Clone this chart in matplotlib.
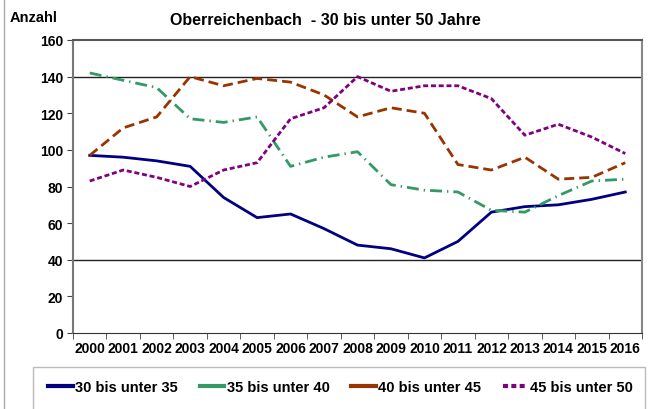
import matplotlib
matplotlib.use("Agg")
import matplotlib.pyplot as plt
from matplotlib.lines import Line2D
from matplotlib.patches import Rectangle

years = [str(y) for y in range(2000, 2017)]
s30_35 = [97, 96, 94, 91, 74, 63, 65, 57, 48, 46, 41, 50, 66, 69, 70, 73, 77]
s35_40 = [142, 138, 134, 117, 115, 118, 91, 96, 99, 81, 78, 77, 67, 66, 75, 83, 84]
s40_45 = [97, 112, 118, 140, 135, 139, 137, 130, 118, 123, 120, 92, 89, 96, 84, 85, 93]
s45_50 = [83, 89, 85, 80, 89, 93, 117, 123, 140, 132, 135, 135, 128, 108, 114, 107, 98]
labels = ["30 bis unter 35", "35 bis unter 40", "40 bis unter 45", "45 bis unter 50"]
yticks = [0, 20, 40, 60, 80, 100, 120, 140, 160]

plt.rcParams['font.family'] = ['Liberation Sans', 'DejaVu Sans']

W, H = 651, 410
fig = plt.figure(figsize=(6.51, 4.10), dpi=100)
ax = fig.add_axes([73 / W, 1 - 334 / H, (642 - 73) / W, (334 - 41) / H])

x = list(range(len(years)))
lw = 2.0
ax.plot(x, s30_35, color='#000080', lw=lw, solid_joinstyle='round')
ax.plot(x, s35_40, color='#339966', lw=lw, dashes=(4.3, 1.8, 0.5, 1.8))
ax.plot(x, s40_45, color='#993300', lw=lw, dashes=(3.6, 1.8))
ax.plot(x, s45_50, color='#800080', lw=lw, dashes=(1.8, 1.0))

ax.set_xlim(-0.5, len(years) - 0.5)
ax.set_ylim(0, 160)
ax.set_yticks(yticks)
ax.set_yticklabels([str(v) for v in yticks], fontsize=10, fontweight='bold')
ax.set_xticks(x)
ax.set_xticklabels(years, fontsize=10, fontweight='bold')
ax.tick_params(axis='x', length=0, pad=6)
ax.set_xticks([i - 0.5 for i in range(len(years) + 1)], minor=True)
ax.tick_params(axis='x', which='minor', length=4, color='#444444', direction='out')
ax.tick_params(axis='y', length=4, color='#444444', direction='out', pad=3)

for gy in [40, 140]:
    ax.axhline(gy, color='#222222', lw=1.0, zorder=0)

ax.spines['right'].set_color('#888888')
ax.spines['right'].set_linewidth(1.5)
ax.spines['top'].set_color('#555555')
ax.spines['top'].set_linewidth(1.5)
ax.spines['left'].set_color('#777777')
ax.spines['left'].set_linewidth(1.5)
ax.spines['bottom'].set_color('#333333')

# outer chart border (left edge visible)
fig.add_artist(Line2D([3.5 / W, 3.5 / W], [0, 1], color='#aaaaaa', lw=1.0))

fig.text(0.50, 0.950, "Oberreichenbach  - 30 bis unter 50 Jahre", ha='center', va='center',
         fontsize=11.5, fontweight='bold')
fig.text(0.015, 0.955, "Anzahl", ha='left', va='center', fontsize=10.5, fontweight='bold')

# legend box
fig.add_artist(Rectangle((33 / W, -0.05), (645 - 33) / W, 0.05 + 1 - 368 / H,
                         transform=fig.transFigure, fill=False, edgecolor='#bbbbbb', lw=1.0))

handles = [Line2D([], [], color='#000080', lw=3),
           Line2D([], [], color='#339966', lw=3),
           Line2D([], [], color='#993300', lw=3),
           Line2D([], [], color='#800080', lw=3, dashes=(1.2, 0.8))]
leg = fig.legend(handles, labels, loc='center', bbox_to_anchor=(0.523, 1 - 388 / H), ncol=4,
                 frameon=False, handlelength=1.7,
                 handletextpad=0.15, columnspacing=1.5,
                 prop={'size': 10.5, 'weight': 'bold'})

fig.savefig("out.png", dpi=100)
